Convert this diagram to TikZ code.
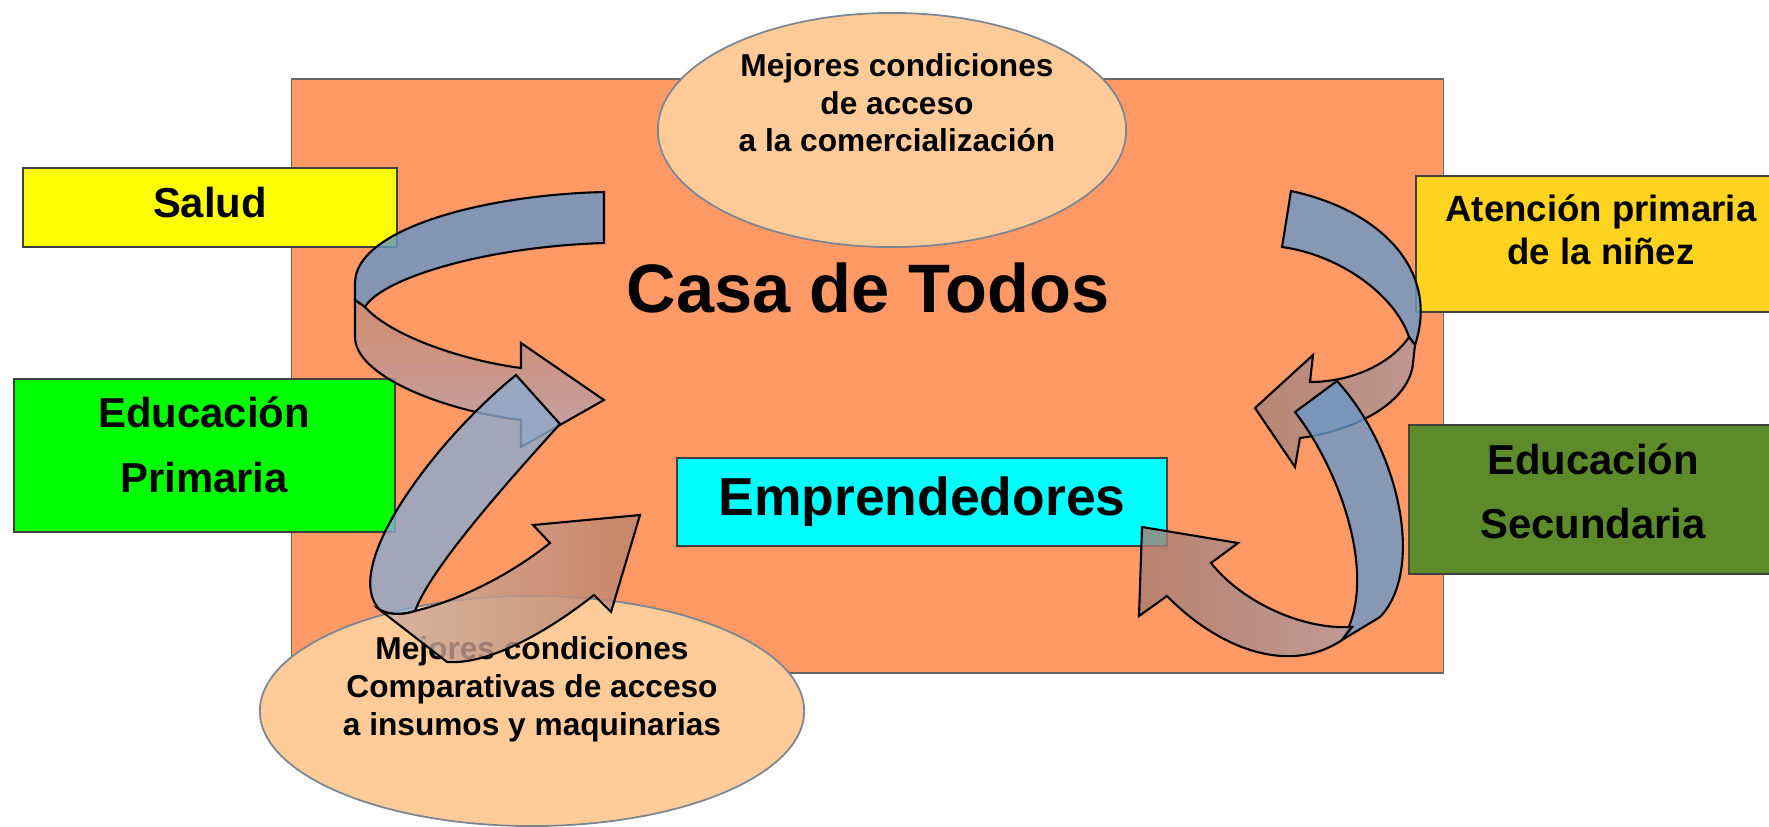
\documentclass[tikz,border=0pt]{standalone}
\usepackage{fontspec}
\setmainfont{Liberation Sans}
\usetikzlibrary{shapes.geometric}
\definecolor{casa}{HTML}{FF9966}
\definecolor{saludyellow}{HTML}{FFFF00}
\definecolor{primgreen}{HTML}{00FF00}
\definecolor{ninezgold}{HTML}{FFD320}
\definecolor{secgreen}{HTML}{5E8B2A}
\definecolor{empcyan}{HTML}{00FFFF}
\definecolor{peach}{HTML}{FFCC99}
\definecolor{ringgray}{HTML}{7B8594}
\definecolor{aonefill}{HTML}{6595C5}
\definecolor{aonetop}{HTML}{C48970}
\definecolor{aonebot}{HTML}{B5A4B9}
\definecolor{atwofill}{HTML}{8CAACD}
\definecolor{atwodark}{HTML}{BA826A}
\definecolor{atwolight}{HTML}{CDAEA2}
\definecolor{athreefill}{HTML}{6998C8}
\definecolor{athreepink}{HTML}{AE959C}
\definecolor{athreebrown}{HTML}{A78276}
\definecolor{afourdark}{HTML}{A77C70}
\definecolor{afourlight}{HTML}{B09BA2}
\tikzset{>=stealth,
  box/.style={draw=black!75, line width=0.4pt, inner sep=0pt},
  blob/.style={ellipse, draw=ringgray, fill=peach, line width=0.5pt, inner sep=0pt},
  txt/.style={align=center, inner sep=0pt},
  band/.style={draw=black, line width=0.6pt, fill opacity=0.8}}

\begin{document}
\begin{tikzpicture}[x=0.01cm, y=-0.01cm]
\useasboundingbox (0,0) rectangle (1769,827);
% boxes
\node[box, draw=black!60, fill=casa, minimum width=11.51cm, minimum height=5.94cm] (casa) at (867.5,376) {};
\node[box, fill=saludyellow, minimum width=3.74cm, minimum height=0.79cm] (salud) at (210,207.5) {};
\node[box, fill=primgreen, minimum width=3.81cm, minimum height=1.53cm] (prim) at (204.5,455.5) {};
\node[box, fill=ninezgold, minimum width=3.70cm, minimum height=1.36cm] (ninez) at (1601,244) {};
\node[box, fill=secgreen, minimum width=3.68cm, minimum height=1.49cm] (sec) at (1593,499.5) {};
\node[box, fill=empcyan, minimum width=4.90cm, minimum height=0.88cm, font=\fontsize{15.2}{18}\selectfont\bfseries] (emp) at (922,502) {Emprendedores};
\node[blob, minimum width=4.68cm, minimum height=2.34cm] (comer) at (892,130) {};
\node[blob, minimum width=5.44cm, minimum height=2.30cm] (insumos) at (532,711) {};
% texts
\node[txt, font=\fontsize{19.5}{23}\selectfont\bfseries] (casatxt) at (868,288) {Casa de Todos};
\node[txt, font=\fontsize{11.9}{14}\selectfont\bfseries] (saludtxt) at (210,202.5) {Salud};
\node[txt, font=\fontsize{11.9}{18.5}\selectfont\bfseries] (primtxt) at (204,444.5) {Educación\\Primaria};
\node[txt, font=\fontsize{10.4}{12.2}\selectfont\bfseries] (nineztxt) at (1601,230) {Atención primaria\\de la niñez};
\node[txt, font=\fontsize{11.9}{18.2}\selectfont\bfseries] (sectxt) at (1593,491) {Educación\\Secundaria};
\node[txt, font=\fontsize{9}{10.7}\selectfont\bfseries] (comertxt) at (897,103) {Mejores condiciones\\de acceso\\a la comercialización};
\node[txt, font=\fontsize{9}{10.8}\selectfont\bfseries] (insumostxt) at (532,689) {Mejores condiciones\\Comparativas de acceso\\a insumos y maquinarias};
% arrow from Salud
\draw[band, fill=aonefill] (604,192) .. controls (480,195) and (355,230) .. (355,283) -- (355,300) -- (365,307)
  .. controls (380,280) and (480,247) .. (604,243) -- cycle;
\shadedraw[band, top color=aonetop, bottom color=aonebot] (365,307) .. controls (390,335) and (460,360) .. (521,368)
  -- (521,343) -- (604,400) -- (521,447) -- (521,420) .. controls (440,410) and (355,375) .. (355,337) -- (355,300) -- cycle;
% arrow from Atencion primaria
\draw[band, fill=athreefill] (1291,191) .. controls (1380,210) and (1440,270) .. (1415,345) -- (1409,337)
  .. controls (1395,295) and (1340,255) .. (1282,247) -- cycle;
\shadedraw[band, left color=athreebrown, right color=athreepink] (1409,337) .. controls (1390,365) and (1350,382) .. (1310,382)
  -- (1313,355) -- (1255,408) -- (1295,467) -- (1300,438) .. controls (1360,430) and (1410,400) .. (1413,363) -- (1415,345) -- cycle;
% arrow from Educacion Primaria
\draw[band, fill=atwofill] (516,375) -- (560,424) .. controls (500,490) and (430,570) .. (415,611)
  .. controls (400,616) and (388,614) .. (380,610) .. controls (340,570) and (430,445) .. (516,375) -- cycle;
\shadedraw[band, left color=atwolight, right color=atwodark] (415,611) .. controls (460,600) and (510,575) .. (550,543)
  -- (533,525) -- (640,515) -- (611,612) -- (594,595) .. controls (550,630) and (490,665) .. (447,662)
  -- (380,610) .. controls (388,614) and (400,616) .. (415,611) -- cycle;
% arrow from Educacion Secundaria
\draw[band, fill=athreefill] (1337,381) -- (1295,412) .. controls (1340,470) and (1380,580) .. (1342,640)
  -- (1380,617) .. controls (1425,570) and (1400,450) .. (1337,381) -- cycle;
\shadedraw[band, left color=afourdark, right color=afourlight] (1352,627) .. controls (1300,630) and (1240,600) .. (1211,563)
  -- (1238,543) -- (1142,527) -- (1139,616) -- (1167,596) .. controls (1220,650) and (1290,675) .. (1342,640) -- cycle;
\end{tikzpicture}
\end{document}
